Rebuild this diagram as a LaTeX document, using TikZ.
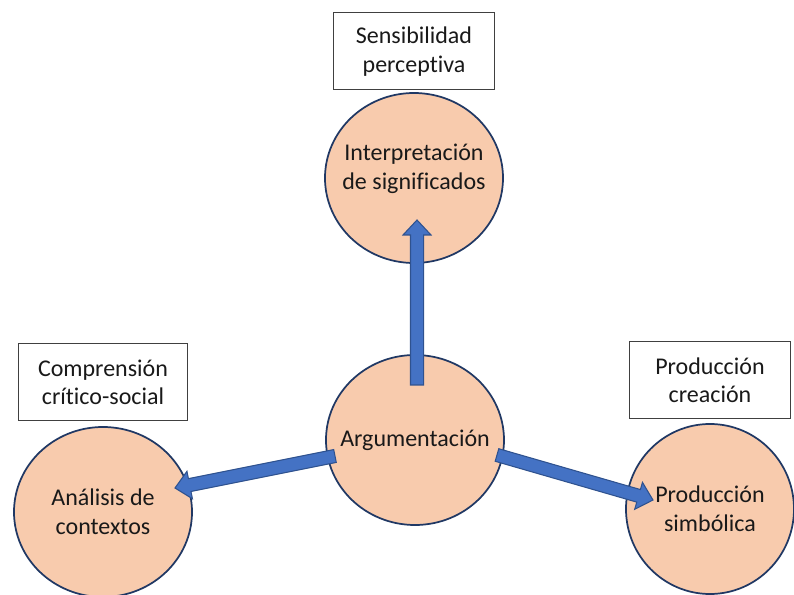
\documentclass[tikz,border=0pt]{standalone}
\usepackage{fontspec}
\setmainfont[Ligatures=NoCommon]{Carlito}
\usetikzlibrary{positioning,calc,shapes.geometric}

\definecolor{discfill}{HTML}{F8CBAD}
\definecolor{discline}{HTML}{203864}
\definecolor{flowfill}{HTML}{4472C4}
\definecolor{flowline}{HTML}{2F528F}

\tikzset{
  disc/.style={draw=discline, line width=1.3pt, fill=discfill, ellipse, minimum width=133.5pt, minimum height=127.5pt, inner sep=0pt},
  disc text/.style={align=center, text=black!90, font=\fontsize{18}{21.5}\selectfont, inner sep=0pt},
  tag/.style={draw=black!75, line width=0.75pt, align=center, text=black!90, minimum width=120.75pt, minimum height=57.5pt, inner xsep=15pt, font=\fontsize{18}{21.5}\selectfont},
  flow/.style={fill=flowfill, draw=flowline, line width=0.8pt, line join=miter},
}

% block arrow from #1 (tail) to #2 (tip)
\newcommand\blockarrow[2]{%
  \coordinate (neck) at ($(#2)!11.25pt!(#1)$);
  \filldraw[flow] ($(#1)!4.9pt!90:(#2)$) -- ($(neck)!4.9pt!90:(#2)$) -- ($(neck)!10.5pt!90:(#2)$)
    -- (#2) -- ($(neck)!10.5pt!-90:(#2)$) -- ($(neck)!4.9pt!-90:(#2)$) -- ($(#1)!4.9pt!-90:(#2)$) -- cycle;
}

\begin{document}
\begin{tikzpicture}[x=0.75pt, y=-0.75pt]
    \useasboundingbox (0,0) rectangle (794,595);

    \node [disc, label={[disc text, yshift=7pt]center:Interpretación\\de significados}] (interp) at (414,178) {};
    \node [disc, label={[disc text]center:Argumentación}] (arg) at (415,440) {};
    \node [disc, label={[disc text]center:Análisis de\\contextos}] (ctx) at (103,512) {};
    \node [disc, minimum width=126pt, label={[disc text]center:Producción\\simbólica}] (prod) at (710,509) {};

    \node [tag, above=1.5pt of interp] (sens) {Sensibilidad\\perceptiva};
    \node [tag, above=3.75pt of ctx] (comp) {Comprensión\\crítico-social};
    \node [tag, above=3pt of prod] (crea) {Producción\\creación};

    \coordinate (upTail) at ($(arg.center)+(2,-55)$);
    \coordinate (upTip) at ($(interp.center)+(3,42)$);
    \coordinate (leftTail) at ($(arg.center)+(-80,16)$);
    \coordinate (leftTip) at ($(ctx.center)+(72,-24)$);
    \coordinate (rightTail) at ($(arg.center)+(82,15)$);
    \coordinate (rightTip) at ($(prod.center)+(-57,-9)$);

    \blockarrow{upTail}{upTip}
    \blockarrow{leftTail}{leftTip}
    \blockarrow{rightTail}{rightTip}
\end{tikzpicture}
\end{document}
